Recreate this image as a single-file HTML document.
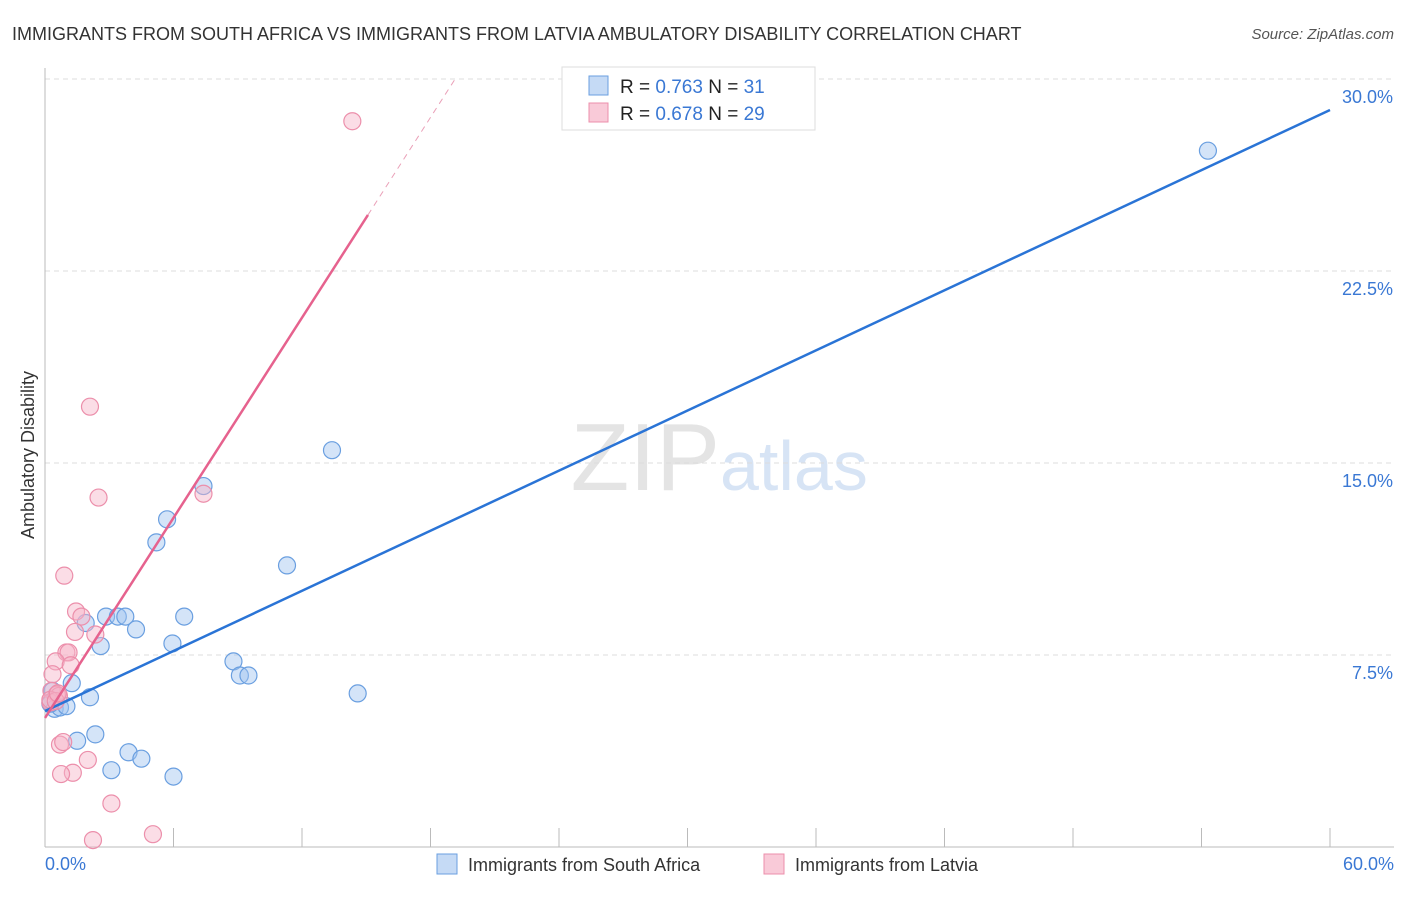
<!DOCTYPE html>
<html><head><meta charset="utf-8"><style>
body{margin:0;background:#fff;font-family:"Liberation Sans",sans-serif;}
svg text{font-family:"Liberation Sans",sans-serif;}
</style></head><body>
<svg id="c" width="1406" height="892">
<text x="12" y="40" font-size="18" fill="#333">IMMIGRANTS FROM SOUTH AFRICA VS IMMIGRANTS FROM LATVIA AMBULATORY DISABILITY CORRELATION CHART</text>
<text x="1394" y="39" font-size="15" fill="#555" font-style="italic" text-anchor="end">Source: ZipAtlas.com</text>
<text x="720" y="490" font-size="96" fill="#e4e4e4" text-anchor="end" font-family="Liberation Serif">ZIP</text>
<text x="720" y="490" font-size="70" fill="#d7e4f5">atlas</text>
<g id="grid"></g>
<g id="pts"></g>
<g id="lines"></g>
<text transform="translate(34,455) rotate(-90)" font-size="18" fill="#333" text-anchor="middle">Ambulatory Disability</text>
<text x="45" y="870" font-size="18" fill="#3a78d4">0.0%</text>
<text x="1394" y="870" font-size="18" fill="#3a78d4" text-anchor="end">60.0%</text>
<g>
<rect x="562" y="67" width="253" height="63" fill="#fff" stroke="#ddd"/>
<rect x="589" y="76" width="19" height="19" fill="#c5daf5" stroke="#6a9fe0"/>
<rect x="589" y="103" width="19" height="19" fill="#f9cad8" stroke="#ec8fab"/>
<text x="620" y="93" font-size="19" fill="#222">R = <tspan fill="#3a78d4">0.763</tspan>    N = <tspan fill="#3a78d4"> 31</tspan></text>
<text x="620" y="120" font-size="19" fill="#222">R = <tspan fill="#3a78d4">0.678</tspan>    N = <tspan fill="#3a78d4">29</tspan></text>
</g>
<g>
<rect x="437" y="854" width="20" height="20" fill="#c5daf5" stroke="#6a9fe0"/>
<text x="468" y="871" font-size="18" fill="#333">Immigrants from South Africa</text>
<rect x="764" y="854" width="20" height="20" fill="#f9cad8" stroke="#ec8fab"/>
<text x="795" y="871" font-size="18" fill="#333">Immigrants from Latvia</text>
</g>
</svg>
<script>
const yTicks=[7.5,15,22.5,30];
const yTickLabels=["7.5%","15.0%","22.5%","30.0%"];
const xTicks=[0,6,12,18,24,30,36,42,48,54,60];
const blueX=[54.3,13.4,7.4,5.7,5.2,11.3,2.85,3.4,3.75,6.5,1.9,4.25,5.95,2.6,8.8,9.1,9.5,14.6,1.25,2.1,0.35,0.45,0.7,1.0,0.25,2.35,1.5,3.9,4.5,3.1,6.0];
const blueY=[27.2,15.5,14.1,12.8,11.9,11.0,9.0,9.0,9.0,9.0,8.75,8.5,7.95,7.85,7.25,6.7,6.7,6.0,6.4,5.85,6.1,5.4,5.45,5.5,5.6,4.4,4.15,3.7,3.45,3.0,2.75];
const pinkX=[14.35,2.1,2.5,7.4,0.9,1.45,1.7,1.4,2.35,1.0,1.1,0.5,1.2,0.35,0.3,0.55,0.65,0.25,0.7,0.85,1.3,0.75,2.0,3.1,2.24,5.04,0.25,0.5,0.6];
const pinkY=[28.35,17.2,13.65,13.8,10.6,9.2,9.0,8.4,8.3,7.6,7.6,7.25,7.1,6.75,6.1,5.95,5.9,5.65,4.0,4.1,2.9,2.85,3.4,1.7,0.27,0.5,5.75,5.7,6.0];
const blueFit=[0,5.31,60,28.79];
const pinkFit=[0,5.04,15.08,24.69,19.15,30];
const X=v=>45+v/60*1285, Y=v=>847-v/7.5*192;
const NS="http://www.w3.org/2000/svg";
function mk(t,a,p){const e=document.createElementNS(NS,t);for(const k in a)e.setAttribute(k,a[k]);p.appendChild(e);return e;}
const g=document.getElementById('grid');
yTicks.forEach((v,i)=>{
 const l=mk('line',{x1:45,x2:1394,y1:Y(v),y2:Y(v),stroke:'#ddd','stroke-dasharray':'5,4'},g);
 
 
 const t=mk('text',{x:1393,y:Y(v)+24,'font-size':18,fill:'#3a78d4','text-anchor':'end'},g);
 t.textContent=yTickLabels[i];
 
 
});
const ax=mk('line',{x1:45,x2:1394,y1:847,y2:847,stroke:'#bbb'},g);


const ay=mk('line',{x1:45,x2:45,y1:68,y2:847,stroke:'#bbb'},g);


xTicks.forEach(v=>{
 const l=mk('line',{x1:X(v),x2:X(v),y1:828,y2:847,stroke:'#bbb'},g);
 
 
});
const p=document.getElementById('pts');
blueX.forEach((v,i)=>{
 const c=mk('circle',{cx:X(v),cy:Y(blueY[i]),r:8.5,fill:'rgba(160,196,240,0.45)',stroke:'#6a9fe0','stroke-width':1.2},p);
 
 
});
pinkX.forEach((v,i)=>{
 const c=mk('circle',{cx:X(v),cy:Y(pinkY[i]),r:8.5,fill:'rgba(246,180,200,0.45)',stroke:'#ec8fab','stroke-width':1.2},p);
 
 
});
const L=document.getElementById('lines');
const bl=mk('line',{x1:X(blueFit[0]),y1:Y(blueFit[1]),x2:X(blueFit[2]),y2:Y(blueFit[3]),stroke:'#2a74d6','stroke-width':2.5},L);


const pl=mk('line',{x1:X(pinkFit[0]),y1:Y(pinkFit[1]),x2:X(pinkFit[2]),y2:Y(pinkFit[3]),stroke:'#e6628e','stroke-width':2.5},L);


const pd=mk('line',{x1:X(pinkFit[2]),y1:Y(pinkFit[3]),x2:X(pinkFit[4]),y2:Y(pinkFit[5]),stroke:'#eaa0b8','stroke-width':1,'stroke-dasharray':'6,5'},L);


</script>
</body></html>
